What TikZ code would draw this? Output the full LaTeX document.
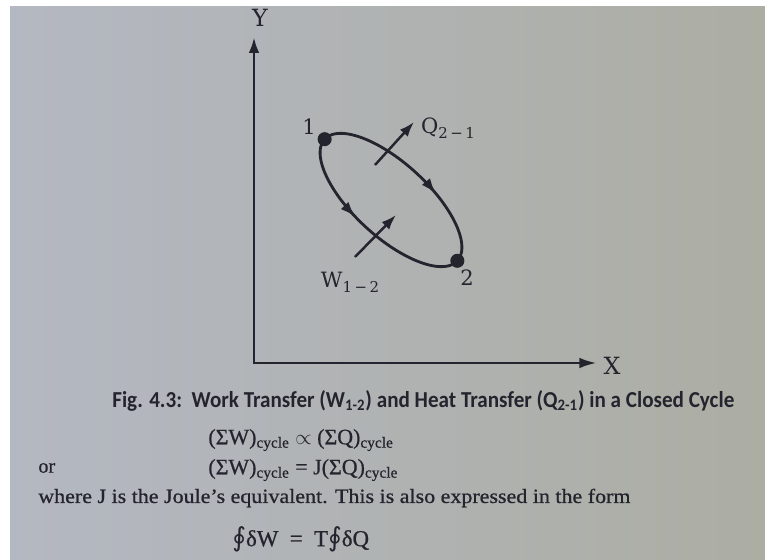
\documentclass[tikz,border=0pt]{standalone}
\usepackage{fontspec}
\setmainfont{Liberation Serif}
\newfontfamily\bodyfont[FakeBold=0.7]{Liberation Serif}
\newfontfamily\capfont{Carlito}
\newfontfamily\lblfont{DejaVu Serif}
\newfontfamily\intfont{DejaVu Sans}
\usepackage{graphicx}
\usetikzlibrary{arrows.meta,decorations.markings}
\definecolor{ink}{RGB}{36,36,46}
\definecolor{pageL}{RGB}{180,184,194}
\definecolor{pageM}{RGB}{216,217,222}
\definecolor{pageR}{RGB}{172,173,163}

\begin{document}
\begin{tikzpicture}[x=0.02cm,y=-0.02cm,color=ink,
			axis/.style={line width=1.7pt,line join=miter,{Latex[length=9pt,width=6pt]}-{Latex[length=10pt,width=6pt]}},
			cyc/.style={line width=1.6pt,line join=round},
			flow/.style={line width=1.4pt,-{Latex[length=8.5pt,width=6pt]}},
			dot/.style={circle,fill=ink,inner sep=0pt,minimum size=8pt},
			lbl/.style={inner sep=0pt,font=\lblfont\fontsize{12}{14}\selectfont},
			txt/.style={inner sep=0pt,anchor=west},
			midarrow/.style={postaction={decorate},decoration={markings,
					mark=at position #1 with {\arrow{Latex[length=9pt,width=6pt]}}}},
			]
			\useasboundingbox (0,0) rectangle (765,560);
			% page of the photo
			\fill[white] (0,0) rectangle (765,560);
			\shade[left color=pageL,middle color=pageM,right color=pageR] (10,7) rectangle (765,560);
			
			% cycle: ellipse from 1 to 2
			\def\cx{391} \def\cy{200} \def\ea{90} \def\eb{37} \def\tilt{42.5}
			
			% axes
			\coordinate (O) at (254,363);
			\coordinate (ytip) at (254,37);
			\coordinate (xtip) at (597,363);
			\draw[axis] (ytip) -- (O) -- (xtip);
			\node[lbl,font=\lblfont\fontsize{13.5}{15}\selectfont] (ly) at (260,18) {Y};
			\node[lbl,font=\lblfont\fontsize{13.5}{15}\selectfont] (lx) at (612,366) {X};
			
			% upper path 1 -> 2
			\draw[cyc,midarrow=0.64] plot[domain=180:360,samples=121]
			({\cx+\ea*cos(\x)*cos(\tilt)-\eb*sin(\x)*sin(\tilt)},{\cy+\ea*cos(\x)*sin(\tilt)+\eb*sin(\x)*cos(\tilt)});
			% lower path 1 -> 2
			\draw[cyc,midarrow=0.43] plot[domain=180:0,samples=121]
			({\cx+\ea*cos(\x)*cos(\tilt)-\eb*sin(\x)*sin(\tilt)},{\cy+\ea*cos(\x)*sin(\tilt)+\eb*sin(\x)*cos(\tilt)});
			
			% state points
			\node[dot] (p1) at ({\cx-\ea*cos(\tilt)},{\cy-\ea*sin(\tilt)}) {};
			\node[dot] (p2) at ({\cx+\ea*cos(\tilt)},{\cy+\ea*sin(\tilt)}) {};
			\node[lbl] (n1) at (309,127) {1};
			\node[lbl] (n2) at (467,278) {2};
			
			% heat and work crossing the boundary
			\coordinate (qs) at (375,165);
			\coordinate (qe) at (414,122);
			\coordinate (ws) at (355,257);
			\coordinate (we) at (396,215);
			\draw[flow] (qs) -- (qe);
			\draw[flow] (ws) -- (we);
			\node[lbl] (lq) at (448,128) {Q\raisebox{-0.45ex}{\fontsize{8.5}{9}\selectfont 2\,−\,1}};
			\node[lbl] (lw) at (350,282) {W\raisebox{-0.45ex}{\fontsize{8.5}{9}\selectfont 1\,−\,2}};
			
			% caption and text below
			\node[txt,font=\capfont\bfseries\fontsize{13}{15}\selectfont] (cap) at (112,401)
			{\resizebox{354pt}{\height}{Fig. 4.3:\ \ Work Transfer (W\textsubscript{1-2}) and Heat Transfer (Q\textsubscript{2-1}) in a Closed Cycle}};
			\node[txt,font=\bodyfont\fontsize{12.5}{14}\selectfont] (eq1) at (208,440)
			{(ΣW)\textsubscript{cycle} $\propto$ (ΣQ)\textsubscript{cycle}};
			\node[txt,font=\bodyfont\fontsize{11.5}{13}\selectfont] (or) at (38,468) {or};
			\node[txt,font=\bodyfont\fontsize{12.5}{14}\selectfont] (eq2) at (208,470)
			{(ΣW)\textsubscript{cycle} = J(ΣQ)\textsubscript{cycle}};
			\node[txt,font=\bodyfont\fontsize{11.5}{13}\selectfont] (line) at (38,498)
			{\resizebox{337pt}{\height}{where J is the Joule’s equivalent. This is also expressed in the form}};
			\node[txt,font=\bodyfont\fontsize{13}{15}\selectfont] (eq3) at (232,539)
			{{\intfont\fontsize{15}{15}\selectfont ∮}δW \ = \ T{\intfont\fontsize{15}{15}\selectfont ∮}δQ};
		\end{tikzpicture}
\end{document}
